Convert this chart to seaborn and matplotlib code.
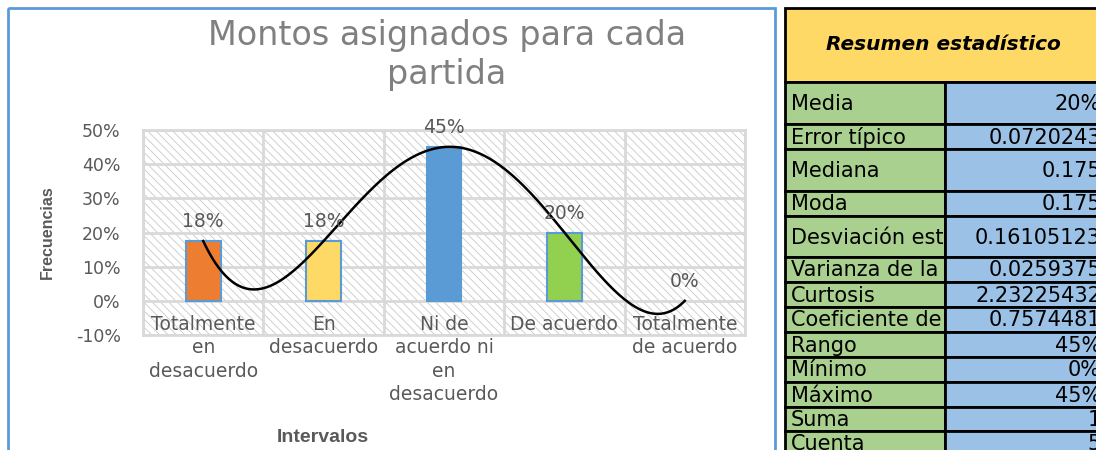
import numpy as np
import matplotlib
matplotlib.use("Agg")
import matplotlib.pyplot as plt
import seaborn as sns
from matplotlib.patches import Rectangle
from matplotlib.transforms import Bbox, TransformedBbox
from matplotlib.ticker import PercentFormatter

# %% data
categories = ["Totalmente en desacuerdo", "En desacuerdo", "Ni de acuerdo ni en desacuerdo",
              "De acuerdo", "Totalmente de acuerdo"]
tick_labels = ["Totalmente\nen\ndesacuerdo", "En\ndesacuerdo", "Ni de\nacuerdo ni\nen\ndesacuerdo",
               "De acuerdo", "Totalmente\nde acuerdo"]
frecuencias = [0.175, 0.175, 0.45, 0.20, 0.0]
bar_labels = ["18%", "18%", "45%", "20%", "0%"]
bar_colors = ["#ED7D31", "#FFD966", "#5B9BD5", "#92D050", "#A5A5A5"]

stat_names = ["Media", "Error típico", "Mediana", "Moda", "Desviación estándar",
              "Varianza de la muestra", "Curtosis", "Coeficiente de asimetría",
              "Rango", "Mínimo", "Máximo", "Suma", "Cuenta"]
stat_values = ["20%", "0.0720243", "0.175", "0.175", "0.16105123", "0.0259375",
               "2.23225432", "0.7574481", "45%", "0%", "45%", "1", "5"]

GREY = "#595959"
GRID = "#D9D9D9"

# %% figure
plt.rcParams["hatch.linewidth"] = 0.6
plt.rcParams["axes.unicode_minus"] = False
fig = plt.figure(figsize=(10.96, 4.5), dpi=100)

# overlay in pixel coordinates for frame + table
ov = fig.add_axes([0, 0, 1, 1])
ov.set_xlim(0, 1096)
ov.set_ylim(450, 0)
ov.axis("off")
ov.add_patch(Rectangle((8, 8), 767, 460, fill=False, edgecolor="#5B9BD5", lw=2))

# %% chart
ax = fig.add_axes([143 / 1096, 1 - 335 / 450, 602 / 1096, 205 / 450])
ax.add_patch(Rectangle((0, 0), 1, 1, transform=ax.transAxes, facecolor="white",
                       edgecolor="#C8C8C8", hatch="\\\\\\\\", lw=0, zorder=0))
sns.barplot(x=categories, y=frecuencias, hue=categories, palette=bar_colors,
            width=0.29, edgecolor="#5B9BD5", linewidth=1.5, legend=False,
            saturation=1, ax=ax, zorder=3)
for p in ax.patches:
    if p.get_height() == 0:
        p.set_linewidth(0)

# polynomial trendline (order 4) through the data
xs_pts = np.arange(len(frecuencias))
coef = np.polyfit(xs_pts, frecuencias, 4)
xs = np.linspace(0, len(frecuencias) - 1, 300)
ax.plot(xs, np.polyval(coef, xs), color="black", lw=1.8, zorder=5)

for i, (v, lab) in enumerate(zip(frecuencias, bar_labels)):
    ax.annotate(lab, (i, v), xytext=(0, 14), textcoords="offset points",
                ha="center", va="center", fontsize=13.5, color=GREY, zorder=6)

ax.set_xlim(-0.5, len(categories) - 0.5)
ax.set_ylim(-0.1, 0.5)
ax.set_yticks(np.arange(-0.1, 0.51, 0.1))
ax.yaxis.set_major_formatter(PercentFormatter(1.0, decimals=0))
ax.set_xticks(np.arange(-0.5, len(categories), 1.0))
ax.set_xticklabels([])
ax.tick_params(length=0, labelsize=12.5, labelcolor=GREY, pad=16)
ax.grid(True, color=GRID, lw=2, zorder=1)
ax.set_axisbelow(True)
for s in ax.spines.values():
    s.set_color(GRID)
    s.set_linewidth(2)
ax.set_xlabel("")
ax.set_ylabel("")

for i, lab in enumerate(tick_labels):
    ax.text(i, -0.041, lab, ha="center", va="top", fontsize=13.5, color=GREY,
            linespacing=1.3, clip_on=False, zorder=6)

fig.text(447 / 1096, 1 - 55 / 450, "Montos asignados para cada\npartida", ha="center",
         va="center", fontsize=24, color="#808080", linespacing=1.22)
fig.text(47 / 1096, 1 - 232 / 450, "Frecuencias", rotation=90, ha="center", va="center",
         fontsize=11.5, fontweight="bold", color=GREY, family="Liberation Sans")
fig.text(323 / 1096, 1 - 438 / 450, "Intervalos", ha="center", va="center",
         fontsize=14, fontweight="bold", color=GREY, family="Liberation Sans")

# %% summary table
left, split, right = 785, 945, 1110
rows = [8, 82, 124, 149, 191, 216, 257, 282, 307, 332, 357, 382, 407, 431, 455]

ov.add_patch(Rectangle((left, rows[0]), right - left, rows[1] - rows[0],
                       facecolor="#FFD966", edgecolor="black", lw=2))
ov.text(943, (rows[0] + rows[1]) / 2, "Resumen estadístico", ha="center", va="center",
        fontsize=14.5, fontweight="bold", style="italic", color="black")

for k, (name, val) in enumerate(zip(stat_names, stat_values)):
    top, bot = rows[k + 1], rows[k + 2]
    mid = (top + bot) / 2
    ov.add_patch(Rectangle((left, top), split - left, bot - top, facecolor="#A9D08E",
                           edgecolor="black", lw=2, zorder=1))
    # value cell drawn above the label text so long labels are cut at the column edge
    ov.add_patch(Rectangle((split, top), right - split, bot - top, facecolor="#9BC2E6",
                           edgecolor="black", lw=2, zorder=3))
    t = ov.text(left + 6, mid + 7, name, ha="left", va="baseline", fontsize=15,
                color="black", zorder=2)
    t.set_clip_on(True)
    t.set_clip_box(TransformedBbox(Bbox.from_extents(left, top, split - 1, bot), ov.transData))
    ov.text(1101, mid + 7, val, ha="right", va="baseline", fontsize=15,
            color="black", zorder=4)

fig.savefig("out.png", dpi=100)
